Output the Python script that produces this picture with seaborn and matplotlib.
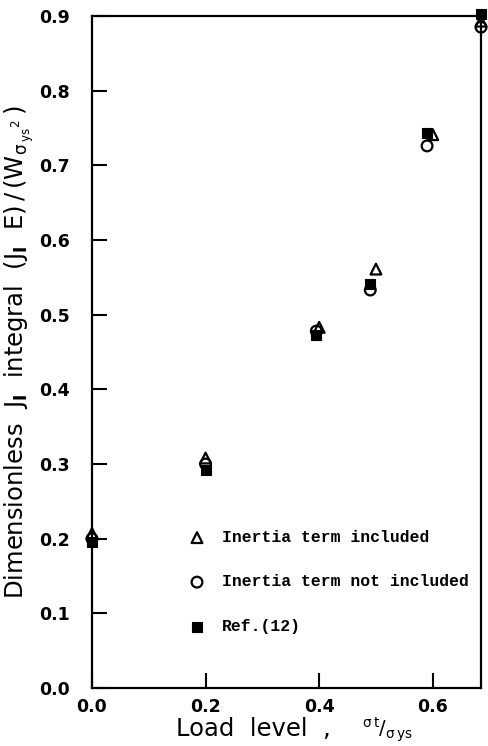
import matplotlib
matplotlib.use("Agg")
import matplotlib.pyplot as plt
import seaborn as sns
import pandas as pd

sns.set_style("ticks")
plt.rcParams['font.family'] = ['DejaVu Sans']
plt.rcParams['mathtext.default'] = 'regular'
plt.rcParams['mathtext.fontset'] = 'dejavusans'
for k in ['text.color', 'axes.labelcolor', 'xtick.color', 'ytick.color', 'axes.edgecolor']:
    plt.rcParams[k] = 'black'

# Data
x_tri = [0.0, 0.2, 0.4, 0.5, 0.6, 0.685]
y_tri = [0.207, 0.308, 0.483, 0.561, 0.741, 0.893]
x_circ = [0.0, 0.2, 0.395, 0.49, 0.59, 0.685]
y_circ = [0.200, 0.300, 0.478, 0.533, 0.726, 0.885]
x_sq = [0.0, 0.2, 0.395, 0.49, 0.59, 0.685]
y_sq = [0.195, 0.292, 0.473, 0.541, 0.743, 0.903]

labels = ["Inertia term included", "Inertia term not included", "Ref.(12)"]
xticks = [0.0, 0.2, 0.4, 0.6]
yticks = [0.0, 0.1, 0.2, 0.3, 0.4, 0.5, 0.6, 0.7, 0.8, 0.9]

fig = plt.figure(figsize=(4.88, 7.46), dpi=100)
ax = fig.add_axes([0.1885, 0.0777, 0.7972, 0.9009])

df_sq = pd.DataFrame({"x": x_sq, "y": y_sq})
df_tri = pd.DataFrame({"x": x_tri, "y": y_tri})
df_circ = pd.DataFrame({"x": x_circ, "y": y_circ})

sns.scatterplot(data=df_sq, x="x", y="y", marker="s", s=55, color="black",
                edgecolor="black", linewidth=0.8, ax=ax, label=labels[2], clip_on=False, zorder=3)
sns.scatterplot(data=df_tri, x="x", y="y", marker="^", s=60, facecolor="none",
                edgecolor="black", linewidth=1.6, ax=ax, label=labels[0], clip_on=False, zorder=4)
sns.scatterplot(data=df_circ, x="x", y="y", marker="o", s=60, facecolor="none",
                edgecolor="black", linewidth=1.6, ax=ax, label=labels[1], clip_on=False, zorder=4)

ax.set_xlim(0, 0.685)
ax.set_ylim(0, 0.9)
ax.set_xticks(xticks)
ax.set_yticks(yticks)
ax.set_xticklabels([f"{v:.1f}" for v in xticks])
ax.set_yticklabels([f"{v:.1f}" for v in yticks])
ax.tick_params(axis="y", direction="in", length=11, width=1.5, labelsize=12.5, pad=16,
               right=False)
ax.tick_params(axis="x", direction="in", length=11, width=1.5, labelsize=12.5, pad=7,
               top=False)
for lab in ax.get_xticklabels() + ax.get_yticklabels():
    lab.set_fontweight("bold")
for sp in ax.spines.values():
    sp.set_linewidth(1.6)
    sp.set_color("black")

ax.set_xlabel("Load  level  ,", fontsize=17.5)
ax.xaxis.set_label_coords(0.415, -0.043)
ax.text(0.695, -0.041, r"$^{\sigma\,t}/_{\sigma\,ys}$", transform=ax.transAxes,
        ha="left", va="top", fontsize=14)
ax.set_ylabel(r"Dimensionless  $J_{\mathbf{I}}$  integral  "
              r"$(J_{\mathbf{I}}\ \ E)\,/\,(W_{\sigma\,_{ys}{}^{2}}\,)$",
              fontsize=17.5)
ax.yaxis.set_label_coords(-0.145, 0.5)

handles, labs = ax.get_legend_handles_labels()
order = [labs.index(l) for l in labels]
leg = ax.legend([handles[i] for i in order], [labs[i] for i in order],
                frameon=False, loc="upper left", bbox_to_anchor=(0.232, 0.245),
                prop={"family": "Liberation Mono", "weight": "bold", "size": 11.8},
                labelspacing=1.8, handletextpad=1.0, handlelength=1.0,
                borderaxespad=0)

fig.savefig("out.png", dpi=100)
